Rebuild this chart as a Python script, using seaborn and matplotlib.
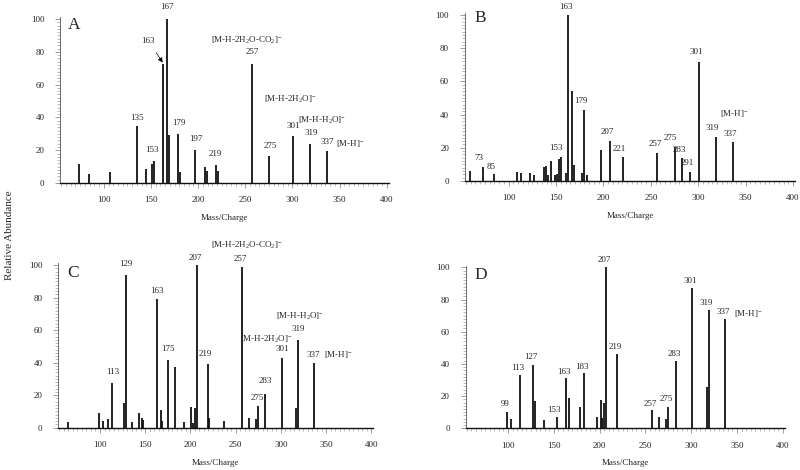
import matplotlib
matplotlib.use("Agg")
import matplotlib.pyplot as plt
from matplotlib.ticker import MultipleLocator
import seaborn as sns
import pandas as pd

sns.set_theme(style="ticks")
plt.rcParams['font.family'] = ['Liberation Serif', 'DejaVu Serif']
plt.rcParams['mathtext.fontset'] = 'custom'
plt.rcParams['mathtext.rm'] = 'Liberation Serif'
plt.rcParams['mathtext.it'] = 'Liberation Serif:italic'
plt.rcParams['mathtext.bf'] = 'Liberation Serif:bold'

# ---------------- data ----------------
mz_A = [74, 84, 107, 135, 145, 151, 153, 163, 167, 169, 179, 181, 197, 207, 209, 219, 221,
        257, 275, 301, 319, 337]
ab_A = [11.6, 5.7, 6.7, 34.5, 8.5, 11.8, 13.6, 72.6, 100, 29.4, 30, 6.7, 19.9, 9.5, 7.5, 11, 7.3,
        72.6, 16.6, 28.6, 23.5, 19.7]

mz_B = [59, 73, 85, 109, 113, 123, 127, 137, 139, 141, 145, 149, 151, 153, 155, 161, 163, 167,
        169, 177, 179, 183, 197, 207, 221, 257, 275, 283, 291, 301, 319, 337]
ab_B = [6, 8.6, 4, 5.6, 5, 5, 3.6, 8.2, 9.2, 3.8, 11.8, 3.8, 4.2, 13.2, 14.5, 4.6, 100, 54.2,
        9.6, 4.6, 42.8, 3.8, 18.7, 23.9, 14.7, 17.1, 20.5, 13.9, 5.6, 71.5, 26.3, 23.3]

mz_C = [65, 99, 103, 109, 113, 127, 129, 135, 143, 146, 148, 163, 167, 169, 175, 183, 193, 201,
        203, 205, 207, 219, 221, 237, 257, 265, 273, 275, 283, 301, 317, 319, 337]
ab_C = [3.3, 9.2, 4.1, 5.1, 27.7, 15.4, 93.9, 3.3, 8.8, 6.1, 4.5, 79.1, 10.7, 3.9, 41.6, 37.1,
        3.7, 12.9, 3.0, 11.9, 100, 38.9, 6.1, 4.2, 99, 5.7, 5.4, 13.6, 20.7, 42.6, 12.3, 53.7, 39.5]

mz_D = [99, 103, 113, 127, 129, 139, 153, 163, 167, 179, 183, 197, 201, 203, 205, 207, 219,
        257, 265, 273, 275, 283, 301, 317, 319, 337]
ab_D = [9.9, 6, 33.3, 39.5, 17.2, 5.2, 6.8, 31, 19, 13.5, 34.6, 7.2, 17.6, 6.6, 15.9, 100, 46,
        11.2, 7.2, 6, 13.5, 41.8, 87.4, 25.9, 73.5, 67.7]

x_ticks = [100, 150, 200, 250, 300, 350, 400]
y_ticks = [0, 20, 40, 60, 80, 100]

ION_LOSS_CO2 = r"[M-H-2H$_2$O-CO$_2$]$^{-}$"
ION_2H2O = r"[M-H-2H$_2$O]$^{-}$"
ION_H2O = r"[M-H-H$_2$O]$^{-}$"
ION_MH = r"[M-H]$^{-}$"

# ---------------- annotations (text, x, y) ----------------
ann_A = [("167", 167, 107.3), ("135", 135, 39.8), ("153", 151.4, 20.1), ("179", 179.7, 36.8),
         ("197", 197.4, 26.6), ("219", 218.2, 17.7), (ION_LOSS_CO2, 251.5, 86.8),
         ("257", 257.5, 79.7), (ION_2H2O, 297.4, 51.2), ("275", 276.2, 22.6),
         ("301", 300.9, 34.8), (ION_H2O, 331, 38), ("319", 319.4, 30.3), ("337", 337, 25.2),
         (ION_MH, 361.8, 24.2)]
ann_B = [("73", 68.5, 13.7), ("85", 81.5, 8.6), ("153", 150, 19.7), ("163", 160.3, 104.6),
         ("179", 176.4, 48.4), ("207", 204.1, 29.5), ("221", 216.8, 19.3), ("257", 254.5, 22.1),
         ("275", 271, 26.1), ("283", 280.1, 18.7), ("291", 287.9, 11), ("301", 298.4, 77.5),
         ("319", 314.9, 31.7), ("337", 333.6, 28.3), (ION_MH, 338.1, 40.4)]
ann_C = [("113", 114.1, 34.4), ("129", 128.5, 100.6), ("163", 162.8, 84), ("175", 174.9, 48.2),
         ("207", 205.5, 104.1), ("219", 217, 45.1), ("257", 255.7, 103.7),
         (ION_LOSS_CO2, 262.3, 111.9), (ION_2H2O, 283.7, 54.3), ("275", 273.7, 18.4),
         ("283", 283.3, 28.7), ("301", 301.4, 48.2), (ION_H2O, 321.3, 68.2),
         ("319", 318.7, 60.5), ("337", 336, 44.7), (ION_MH, 363.6, 44.7)]
ann_D = [("99", 97.1, 14.9), ("113", 110.9, 37.7), ("127", 124.8, 44.1), ("153", 150.2, 11.4),
         ("163", 161.1, 35.2), ("183", 180.8, 38.3), ("207", 204.8, 104.5), ("219", 217.6, 50.3),
         ("257", 255, 15.1), ("275", 272.5, 18), ("283", 281.2, 46.1), ("301", 298.7, 91.5),
         ("319", 316.9, 77.6), ("337", 335.1, 72), (ION_MH, 362.3, 71)]

panels = [
    ("A", mz_A, ab_A, ann_A, [0.0755, 0.6106, 0.4103, 0.3523], (68.7, 96.3)),
    ("B", mz_B, ab_B, ann_B, [0.5813, 0.6149, 0.4124, 0.3568], (69.8, 98.0)),
    ("C", mz_C, ab_C, ann_C, [0.0730, 0.0900, 0.3933, 0.3496], (69.8, 94.9)),
    ("D", mz_D, ab_D, ann_D, [0.5824, 0.0887, 0.3984, 0.3460], (70.5, 95.2)),
]

fig = plt.figure(figsize=(8, 4.7), dpi=100)
fs = 6.5

for letter, mz, ab, ann, rect, lpos in panels:
    ax = fig.add_axes(rect)
    df = pd.DataFrame({"mz": mz, "ab": ab})
    ax.vlines(df["mz"], 0, df["ab"], color="#111111", lw=1.3)
    ax.set_xlim(54, 402)
    ax.set_ylim(0, 101)
    sns.despine(ax=ax)
    ax.spines["left"].set_linewidth(0.6)
    ax.spines["bottom"].set_linewidth(1.0)
    ax.spines["left"].set_color("#555555")
    ax.spines["bottom"].set_color("#111111")
    ax.set_xticks(x_ticks)
    ax.set_yticks(y_ticks)
    ax.xaxis.set_minor_locator(MultipleLocator(5))
    ax.yaxis.set_minor_locator(MultipleLocator(2))
    ax.tick_params(axis="both", which="major", labelsize=fs, length=3.5, width=0.5,
                   color="#777777", direction="out")
    ax.tick_params(axis="both", which="minor", length=2, width=0.4, color="#888888",
                   direction="out")
    ax.tick_params(axis="x", which="major", pad=6)
    ax.tick_params(axis="y", which="major", pad=8)
    ax.set_xlabel("Mass/Charge", fontsize=fs, labelpad=7)
    ax.set_ylabel("")
    ax.text(lpos[0], lpos[1], letter, fontsize=12.5, ha="center", va="center")
    for txt, tx, ty in ann:
        ax.text(tx, ty, txt, fontsize=fs, ha="center", va="center", clip_on=False)
    if letter == "A":
        ax.annotate("163", xy=(162.4, 73.5), xytext=(147.2, 86.8), fontsize=fs,
                    ha="center", va="center",
                    arrowprops=dict(arrowstyle="-|>", color="black", lw=0.5,
                                    mutation_scale=7, shrinkA=4, shrinkB=0))

fig.text(0.012, 0.5, "Relative Abundance", rotation=90, fontsize=8, ha="center", va="center")

fig.savefig("out.png", dpi=100)
